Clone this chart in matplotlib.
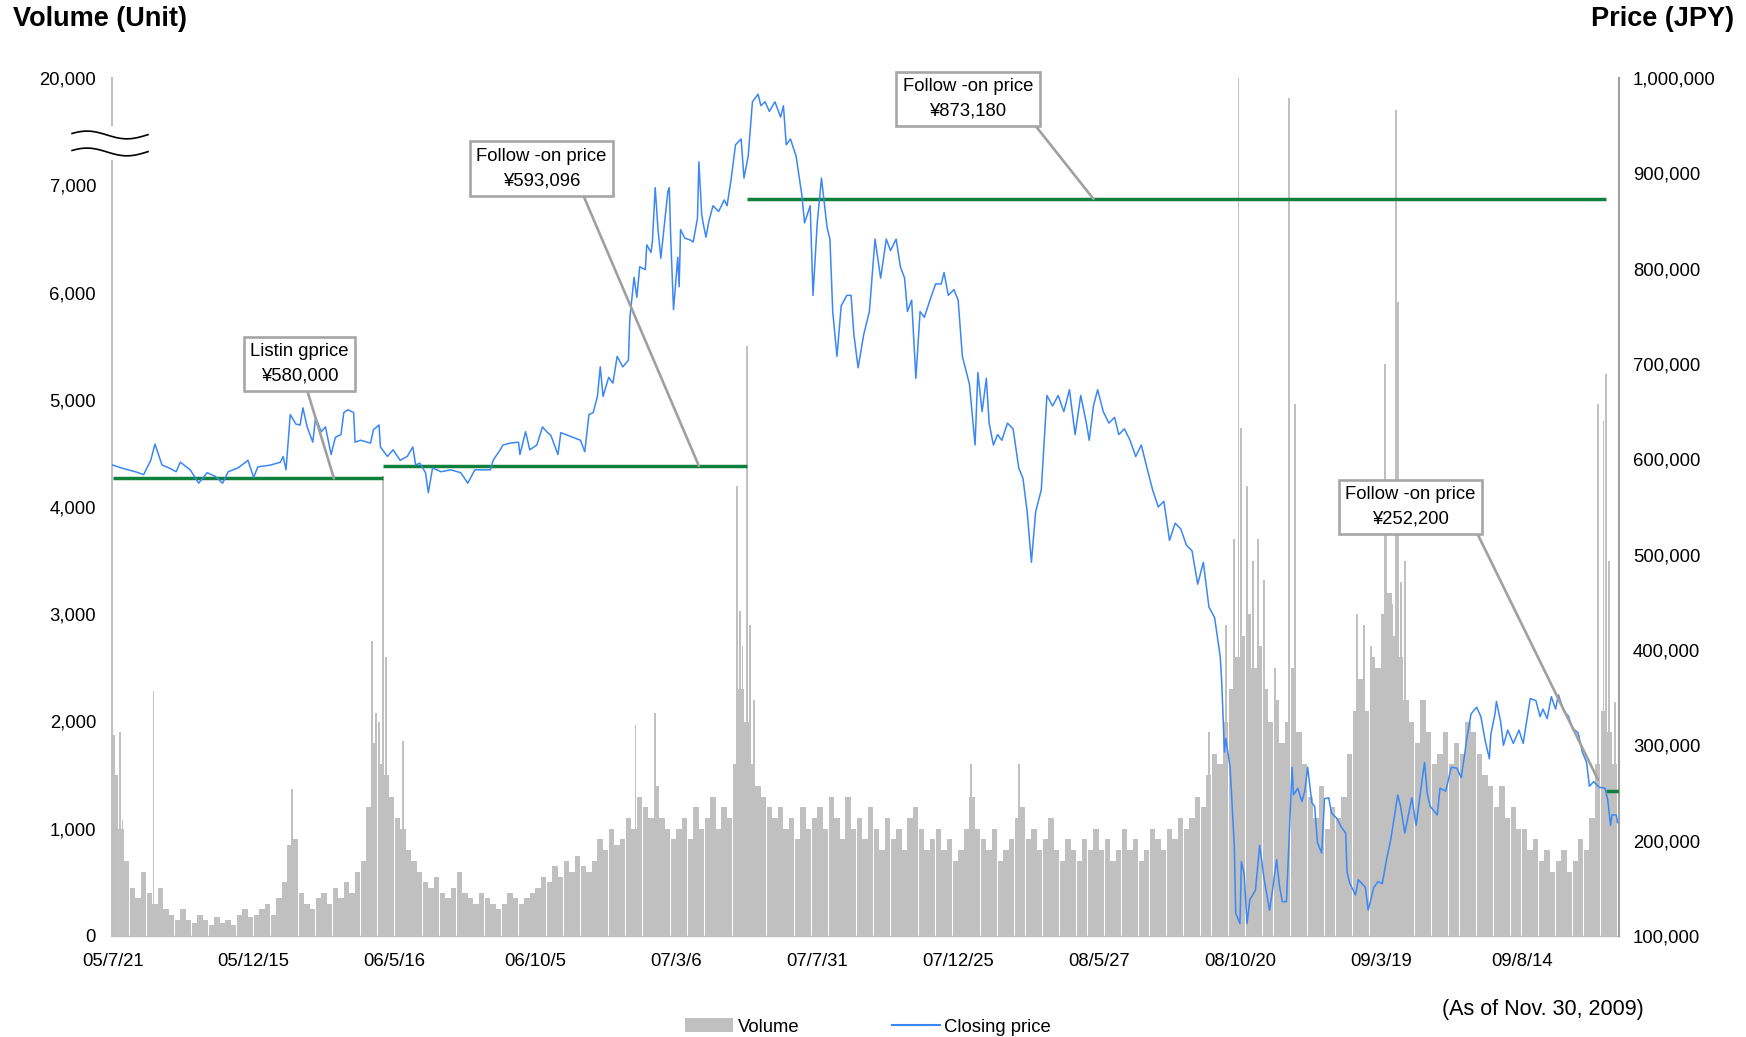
import numpy as np
import matplotlib
matplotlib.use("Agg")
import matplotlib.pyplot as plt
from matplotlib.patches import Patch
from matplotlib.lines import Line2D

plt.rcParams['font.family'] = ['Liberation Sans', 'DejaVu Sans']

# ---------------- data ----------------
date_labels = ["05/7/21", "05/12/15", "06/5/16", "06/10/5", "07/3/6", "07/7/31",
               "07/12/25", "08/5/27", "08/10/20", "09/3/19", "09/8/14"]
date_label_idx = [0, 100, 200, 300, 400, 500, 600, 700, 800, 900, 1000]
n_days = 1069

# closing price (trading-day index, price in thousand JPY)
price_idx = [0, 6, 16, 22, 27, 30, 35, 40, 45, 48, 55, 61, 67, 73, 78, 82, 89, 96, 100, 103,
             112, 119, 121, 123, 126, 130, 133, 135, 138, 142, 144, 148, 151, 155, 158, 162, 164, 167, 171, 172,
             176, 183, 185, 189, 190, 195, 199, 204, 209, 213, 215, 218, 222, 224, 227, 233, 240, 247, 252, 257,
             268, 270, 275, 277, 282, 288, 289, 293, 296, 301, 305, 308, 311, 316, 318, 325, 332, 335, 338, 341,
             344, 346, 348, 352, 355, 358, 362, 366, 367, 370, 372, 374, 378, 379, 382, 383, 385, 387, 389, 391,
             394, 395, 396, 398, 401, 402, 403, 406, 410, 412, 415, 416, 418, 419, 421, 423, 426, 430, 434, 436,
             439, 442, 446, 448, 451, 454, 458, 460, 463, 466, 470, 474, 476, 478, 481, 485, 489, 491, 495, 497,
             500, 503, 507, 509, 511, 514, 517, 521, 524, 526, 529, 533, 537, 541, 545, 549, 552, 556, 559, 562,
             564, 567, 570, 573, 576, 580, 584, 588, 590, 593, 597, 600, 603, 608, 612, 614, 617, 620, 622, 625,
             628, 631, 635, 639, 643, 646, 649, 652, 655, 659, 663, 667, 671, 675, 679, 683, 687, 691, 693, 696,
             699, 703, 707, 711, 714, 718, 722, 726, 730, 734, 738, 742, 746, 750, 754, 758, 762, 766, 770, 774,
             778, 782, 786, 787, 789, 790, 793, 796, 797, 800, 801, 803, 805, 807, 811, 814, 817, 821, 823, 826,
             828, 830, 833, 837, 838, 841, 844, 846, 848, 851, 853, 855, 858, 860, 863, 865, 869, 872, 875, 876,
             878, 882, 884, 889, 891, 895, 898, 901, 904, 907, 912, 914, 917, 920, 922, 925, 929, 931, 933, 935,
             940, 942, 946, 950, 954, 957, 959, 961, 964, 968, 971, 974, 977, 978, 981, 982, 985, 987, 990, 994,
             998, 1001, 1003, 1006, 1010, 1013, 1015, 1018, 1021, 1024, 1026, 1030, 1033, 1036, 1040, 1043, 1046, 1048, 1051, 1055,
             1059, 1061, 1063, 1064, 1067, 1068]
price_k = [594, 591, 587, 584, 599, 616, 594, 591, 587, 597, 589, 575, 586, 582, 575, 587, 591, 599, 581, 592,
           594, 597, 603, 589, 647, 637, 636, 654, 634, 618, 644, 629, 634, 605, 623, 626, 649, 652, 649, 618,
           620, 617, 631, 636, 613, 603, 610, 599, 603, 613, 594, 596, 586, 565, 591, 587, 589, 586, 575, 589,
           589, 599, 610, 615, 617, 618, 605, 629, 610, 615, 634, 629, 625, 605, 628, 624, 620, 608, 647, 649,
           666, 697, 666, 686, 680, 708, 697, 704, 748, 791, 770, 802, 799, 825, 817, 828, 885, 841, 811, 839,
           881, 885, 833, 757, 812, 781, 841, 832, 830, 828, 853, 912, 857, 848, 833, 849, 866, 860, 872, 866,
           895, 930, 936, 895, 918, 975, 983, 971, 975, 965, 975, 959, 971, 930, 936, 918, 878, 848, 866, 772,
           848, 895, 843, 831, 755, 708, 761, 772, 772, 731, 696, 731, 755, 831, 790, 831, 819, 831, 802, 790,
           755, 767, 685, 755, 749, 767, 784, 784, 796, 772, 778, 767, 708, 679, 615, 691, 650, 685, 638, 615,
           626, 620, 638, 632, 591, 580, 545, 492, 545, 568, 667, 656, 667, 650, 673, 626, 667, 638, 620, 656,
           673, 650, 638, 644, 626, 632, 620, 603, 615, 591, 568, 550, 556, 515, 533, 527, 510, 504, 469, 492,
           445, 434, 393, 368, 293, 307, 277, 194, 124, 113, 178, 165, 113, 138, 148, 195, 161, 127, 147, 180,
           153, 136, 136, 277, 248, 255, 241, 252, 277, 240, 236, 198, 187, 244, 245, 229, 223, 214, 208, 167,
           155, 143, 159, 151, 127, 151, 157, 155, 180, 201, 248, 236, 208, 230, 245, 216, 261, 282, 249, 236,
           227, 255, 252, 277, 276, 266, 286, 307, 333, 340, 330, 305, 286, 311, 333, 346, 325, 300, 316, 302,
           316, 302, 321, 349, 347, 330, 338, 328, 351, 338, 353, 335, 331, 318, 313, 293, 282, 257, 262, 256,
           255, 243, 216, 227, 227, 219]

# volume, sampled every 4 trading days (units)
vol_step = 4
vol_base = [1500, 1000, 700, 450, 350, 600, 400, 300, 450, 250, 200, 150, 250, 150, 120, 200, 150, 100, 180, 120, 150, 100, 200, 250, 180,
            200, 250, 300, 200, 350, 500, 850, 900, 400, 300, 250, 350, 400, 300, 450, 350, 500, 400, 600, 700, 1200, 1800, 1600, 1500, 1300,
            1100, 1000, 800, 700, 600, 500, 450, 550, 400, 350, 450, 600, 400, 350, 300, 400, 350, 300, 250, 300, 400, 350, 300, 350, 400,
            450, 550, 500, 650, 550, 700, 600, 750, 650, 600, 700, 900, 800, 1000, 850, 900, 1100, 1000, 1300, 1200, 1100, 1400, 1100, 1000, 900,
            1000, 1100, 900, 1200, 1000, 1100, 1300, 1000, 1200, 1100, 1600, 2300, 2000, 1600, 1400, 1300, 1200, 1100, 1200, 1000, 1100, 900, 1200, 1000, 1100,
            1200, 1000, 1300, 1100, 900, 1300, 1000, 1100, 900, 1200, 1000, 800, 1100, 900, 1000, 800, 1100, 1200, 1000, 800, 900, 1000, 800, 900, 700,
            800, 1000, 1300, 1000, 900, 800, 1000, 700, 800, 900, 1100, 1200, 900, 1000, 800, 900, 1100, 800, 700, 900, 800, 700, 900, 800, 1000,
            800, 900, 700, 800, 1000, 800, 900, 700, 800, 1000, 900, 800, 1000, 900, 1100, 1000, 1100, 1300, 1200, 1500, 1700, 1600, 2000, 2300, 2600,
            2800, 3000, 2500, 2700, 2300, 2000, 2200, 1800, 2000, 2500, 1900, 1600, 1300, 1100, 1400, 1000, 1200, 1100, 1300, 1700, 2100, 2400, 2100, 2600, 2500,
            3000, 3200, 2800, 2600, 2200, 2000, 1800, 2200, 1900, 1600, 1700, 1900, 1600, 1800, 1700, 2000, 1900, 1700, 1500, 1400, 1200, 1400, 1100, 1200, 1000,
            1000, 800, 900, 700, 800, 600, 700, 800, 600, 700, 900, 800, 1100, 1600, 2100, 1900, 1600, 1300]
vol_idx = list(range(0, vol_step * len(vol_base), vol_step))

# single heavy-volume days
spike_idx = [1, 5, 7, 29, 127, 184, 187, 189, 192, 194, 206, 371, 385, 443, 445, 447, 450, 452, 455,
             609, 643, 778, 790, 796, 799, 801, 805, 809, 813, 817, 825, 835, 839, 883, 888, 893, 903, 904, 908,
             911, 912, 914, 917, 1054, 1058, 1060, 1062, 1066]
spike_vol = [1870, 1900, 1080, 2280, 1370, 2750, 2080, 2000, 4290, 2600, 1820, 1970, 2080, 4200, 3030, 2700, 5500, 2900, 2200,
             1600, 1600, 1900, 2900, 3700, 20000, 4740, 4200, 3500, 3700, 3320, 2500, 17570, 4960, 3000, 2900, 2700, 5335, 4050, 3100,
             16100, 5910, 3300, 3500, 4960, 4800, 5240, 3500, 2180]

# offering prices (start idx, end idx, price JPY)
offer_start = [0, 192, 450, 1060]
offer_end = [192, 450, 1060, 1069]
offer_price = [580000, 593096, 873180, 252200]
offer_labels = ["Listin gprice\n¥580,000", "Follow -on price\n¥593,096",
                "Follow -on price\n¥873,180", "Follow -on price\n¥252,200"]
offer_point_idx = [157, 416, 696, 1058]

vol_ticks = [0, 1000, 2000, 3000, 4000, 5000, 6000, 7000, 20000]
price_ticks = [100000, 200000, 300000, 400000, 500000, 600000, 700000, 800000, 900000, 1000000]

# ---------------- figure ----------------
W, H = 1746, 1037
fig = plt.figure(figsize=(W / 100, H / 100), dpi=100)
L, R, T, B = 112, 1619, 78, 936
ax = fig.add_axes([L / W, 1 - B / H, (R - L) / W, (B - T) / H])

BREAK = 7000.0
COMP = 13.0

def fwd(v):
    v = np.asarray(v, dtype=float)
    return np.where(v <= BREAK, v, BREAK + (v - BREAK) / COMP)

def inv(t):
    t = np.asarray(t, dtype=float)
    return np.where(t <= BREAK, t, BREAK + (t - BREAK) * COMP)

ax.set_yscale('function', functions=(fwd, inv))
bar_color = '#C0C0C0'
ax.bar(vol_idx, vol_base, width=3.8, color=bar_color, linewidth=0, align='edge')
ax.bar(spike_idx, spike_vol, width=1.3, color=bar_color, linewidth=0)
ax.set_ylim(0, 20000)
ax.set_xlim(-0.5, n_days)
ax.set_yticks(vol_ticks)
ax.set_yticklabels([f"{v:,}" for v in vol_ticks])
ax.set_xticks(date_label_idx)
ax.set_xticklabels(date_labels)
ax.tick_params(axis='y', length=0, pad=11.5, labelsize=13.3)
ax.tick_params(axis='x', length=0, pad=12, labelsize=13.3)
for s in ['top', 'right']:
    ax.spines[s].set_visible(False)
ax.spines['left'].set_color('#BFBFBF')
ax.spines['left'].set_linewidth(1.5)
ax.spines['bottom'].set_color('#C0C0C0')
ax.spines['bottom'].set_linewidth(1.0)

ax2 = ax.twinx()
ax2.set_ylim(100000, 1000000)
ax2.set_xlim(-0.5, n_days)
ax2.set_yticks(price_ticks)
ax2.set_yticklabels([f"{v:,}" for v in price_ticks])
ax2.tick_params(axis='y', length=0, pad=10, labelsize=13.3)
for s in ['top', 'left', 'bottom']:
    ax2.spines[s].set_visible(False)
ax2.spines['right'].set_color('#A0A0A0')
ax2.spines['right'].set_linewidth(1.5)

green = '#11803C'
for s0, s1, p in zip(offer_start, offer_end, offer_price):
    ax2.plot([s0, s1], [p, p], color=green, lw=2.5, solid_capstyle='butt', zorder=4)

ax2.plot(price_idx, np.array(price_k) * 1000, color='#3A87F5', lw=1.1, zorder=5)

# annotation boxes (centres in figure pixels from top-left)
box_centres = [(299.5, 364), (541.5, 168.5), (968, 99), (1410.5, 507)]
relpos = [(0.56, 0.0), (0.8, 0.0), (0.98, 0.0), (0.99, 0.0)]
shrinkB = [0, 0, 0, 9]
for lab, pidx, p, (cx, cy), rp, sb in zip(offer_labels, offer_point_idx, offer_price, box_centres, relpos, shrinkB):
    ax2.annotate(lab, xy=(pidx, p), xycoords='data',
                 xytext=(cx, H - cy), textcoords='figure pixels',
                 ha='center', va='center', fontsize=13.3, linespacing=1.55,
                 bbox=dict(boxstyle='square,pad=0.36', fc='white', ec='#A6A6A6', lw=1.9),
                 arrowprops=dict(arrowstyle='-', color='#A0A0A0', lw=1.9, relpos=rp,
                                 shrinkA=0, shrinkB=sb),
                 zorder=6)

# axis break marks
ax.plot([0, 0], [0.908, 0.941], transform=ax.transAxes, color='white', lw=4, clip_on=False, zorder=10)
xs = np.linspace(-0.0265, 0.0239, 60)
ph = (xs - xs[0]) / (xs[-1] - xs[0])
for yc in (0.9336, 0.9138):
    ys = yc + 0.0045 * np.sin(2 * np.pi * ph * 0.95 + 0.4)
    ax.plot(xs, ys, transform=ax.transAxes, color='black', lw=1.2, clip_on=False, zorder=11)

# titles
fig.text(13 / W, 1 - 19 / H, "Volume (Unit)", fontsize=19.5, fontweight='bold', ha='left', va='center')
fig.text(1734 / W, 1 - 19 / H, "Price (JPY)", fontsize=19.5, fontweight='bold', ha='right', va='center')
fig.text(1644 / W, 1 - 1009 / H, "(As of Nov. 30, 2009)", fontsize=15.5, ha='right', va='center')

handles = [Patch(facecolor=bar_color, edgecolor='none', label='Volume'),
           Line2D([0], [0], color='#3A87F5', lw=1.5, label='Closing price')]
fig.legend(handles=handles, loc='center', bbox_to_anchor=(868 / W, 1 - 1027 / H), ncol=2,
           frameon=False, fontsize=13.3, handlelength=2.6, handleheight=0.8,
           handletextpad=0.25, columnspacing=5.0)

fig.savefig("out.png", dpi=100)
